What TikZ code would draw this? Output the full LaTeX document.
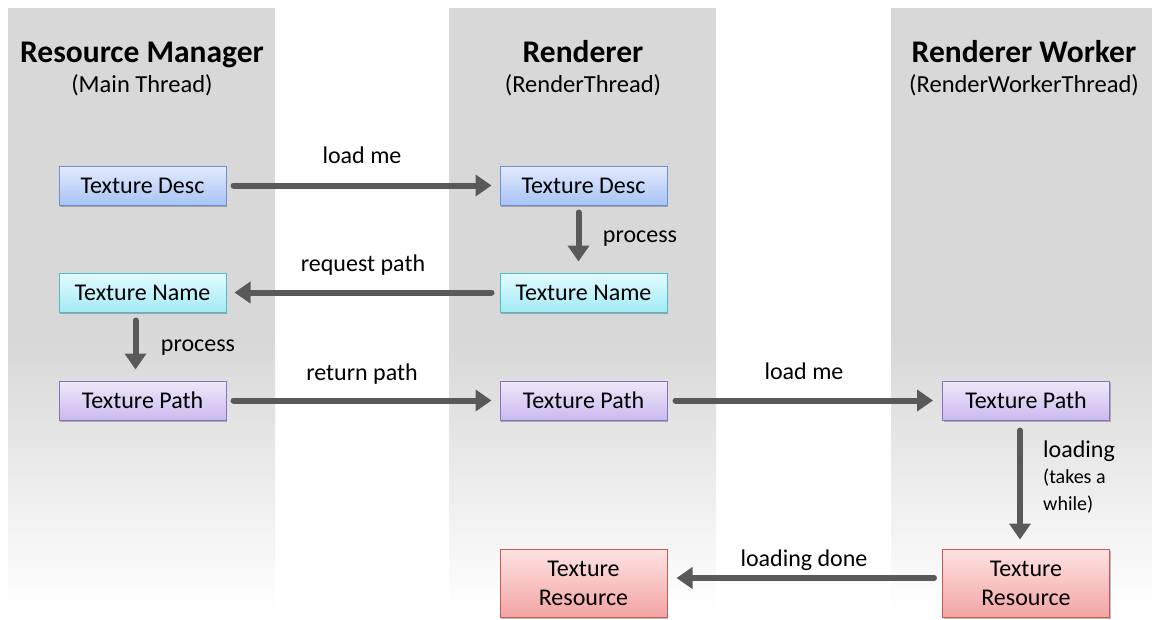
\documentclass[tikz,border=0pt]{standalone}
\usepackage{fontspec}
\setmainfont{Carlito}
\usetikzlibrary{arrows.meta,shadows}
\definecolor{band}{HTML}{D8D8D8}
\definecolor{arrowgray}{HTML}{595959}
\definecolor{descT}{HTML}{E3EBFF}\definecolor{descB}{HTML}{A8C3F4}\definecolor{descD}{HTML}{6E8FD2}
\definecolor{nameT}{HTML}{E4FCFF}\definecolor{nameB}{HTML}{A3EAF6}\definecolor{nameD}{HTML}{4EBACB}
\definecolor{pathT}{HTML}{EFE9FA}\definecolor{pathB}{HTML}{CBB9EE}\definecolor{pathD}{HTML}{8B70C0}
\definecolor{resT}{HTML}{FFE3E3}\definecolor{resB}{HTML}{F3A4A4}\definecolor{resD}{HTML}{C45A5A}
\tikzset{
  box/.style={draw, line width=1pt, minimum width=167pt, minimum height=39pt,
    inner sep=2pt, align=center, font=\fontsize{24}{29}\selectfont,
    drop shadow={shadow xshift=1pt, shadow yshift=-2pt, opacity=0.25, fill=black}},
  desc/.style={box, draw=descD, top color=descT, bottom color=descB},
  tname/.style={box, draw=nameD, top color=nameT, bottom color=nameB},
  tpath/.style={box, draw=pathD, top color=pathT, bottom color=pathB},
  tres/.style={box, draw=resD, top color=resT, bottom color=resB, minimum height=68pt},
  flow/.style={draw=arrowgray, line width=6pt, line cap=round,
    -{Triangle[width=21pt,length=16pt]}},
  lbl/.style={font=\fontsize{24}{28}\selectfont, inner sep=0pt, anchor=base},
  ttl/.style={font=\fontsize{31.5}{34}\selectfont\bfseries, inner sep=0pt, anchor=base},
  sub/.style={font=\fontsize{24.5}{28}\selectfont, inner sep=0pt, anchor=base},
}
\begin{document}
\begin{tikzpicture}[x=1pt,y=-1pt]
\useasboundingbox (0,0) rectangle (1152,619);
% thread lanes: flat grey that fades out towards the bottom
\foreach \l/\r in {8/275, 449/716, 891/1152}{
  \fill[band] (\l,8) rectangle (\r,340);
  \shade[top color=band, bottom color=white] (\l,339.5) rectangle (\r,612);
}
% lane headings
\node[ttl] (hrm) at (142,62) {Resource Manager};
\node[sub] (srm) at (142,92) {(Main Thread)};
\node[ttl] (hr) at (583,62) {Renderer};
\node[sub] (sr) at (583,92) {(RenderThread)};
\node[ttl] (hw) at (1024,62) {Renderer Worker};
\node[sub] (sw) at (1024,92) {(RenderWorkerThread)};
% objects
\node[desc]  (mdesc) at (142.5,185.5) {Texture Desc};
\node[desc]  (rdesc) at (583.5,185.5) {Texture Desc};
\node[tname] (mname) at (142.5,292.5) {Texture Name};
\node[tname] (rname) at (583.5,292.5) {Texture Name};
\node[tpath] (mpath) at (142.5,400.5) {Texture Path};
\node[tpath] (rpath) at (583.5,400.5) {Texture Path};
\node[tpath] (wpath) at (1026,400.5) {Texture Path};
\node[tres]  (rres)  at (583.5,583) {Texture\\Resource};
\node[tres]  (wres)  at (1026,583) {Texture\\Resource};
% messages and processing steps
\draw[flow, shorten <=7pt, shorten >=8pt] (mdesc) -- (rdesc);
\node[lbl] (l1) at (362,163) {load me};
\draw[flow, shorten <=7pt, shorten >=11pt] ([xshift=-5pt]rdesc.south) -- ([xshift=-5pt]rname.north);
\node[lbl] (l2) at (640,242) {process};
\draw[flow, shorten <=8pt, shorten >=8pt] (rname) -- (mname);
\node[lbl] (l3) at (363,271) {request path};
\draw[flow, shorten <=8pt, shorten >=11pt] ([xshift=-7pt]mname.south) -- ([xshift=-7pt]mpath.north);
\node[lbl] (l4) at (198,351) {process};
\draw[flow, shorten <=7pt, shorten >=8pt] (mpath) -- (rpath);
\node[lbl] (l5) at (362,380) {return path};
\draw[flow, shorten <=8pt, shorten >=9pt] (rpath) -- (wpath);
\node[lbl] (l6) at (804,379) {load me};
\draw[flow, shorten <=10pt, shorten >=9pt] ([xshift=-6pt]wpath.south) -- ([xshift=-6pt]wres.north);
\node[lbl, anchor=base west] (l7) at (1043,457) {loading};
\node[lbl, anchor=base west, font=\fontsize{20}{26}\selectfont] (l8a) at (1043,483) {(takes a};
\node[lbl, anchor=base west, font=\fontsize{20}{26}\selectfont] (l8b) at (1043,510) {while)};
\draw[flow, shorten <=8pt, shorten >=9pt] ([yshift=5pt]wres.west) -- ([yshift=5pt]rres.east);
\node[lbl] (l9) at (804,566) {loading done};
\end{tikzpicture}
\end{document}
